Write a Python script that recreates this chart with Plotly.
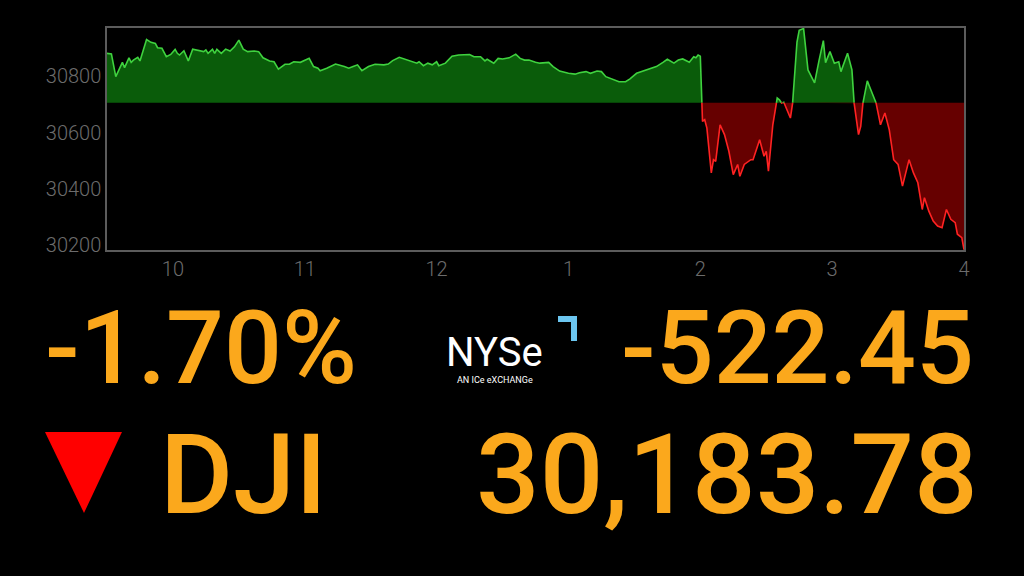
import pandas as pd
import plotly.graph_objects as go

# ---------------- data ----------------
session_date = "2022-09-21"
prev_close = 30706.23

minutes_after_open = [
    0, 2, 4, 5, 7, 8, 10, 11, 12, 14, 15, 18, 20, 22, 23, 25, 27, 29, 31, 32,
    33, 35, 37, 39, 41, 44, 45, 46, 48, 49, 50, 52, 54, 56, 58, 60, 62, 64, 67, 69,
    71, 74, 76, 78, 81, 83, 85, 88, 92, 94, 96, 97, 100, 104, 108, 110, 112, 114, 116, 119,
    122, 126, 128, 130, 133, 136, 138, 141, 142, 144, 146, 148, 150, 151, 154, 155, 157, 160, 163, 165,
    167, 170, 172, 173, 176, 178, 180, 183, 186, 188, 190, 192, 195, 197, 201, 203, 206, 210, 213, 215,
    218, 220, 223, 225, 227, 230, 233, 236, 238, 241, 244, 247, 250, 253, 255, 258, 260, 262, 265, 267,
    268, 269, 270, 271, 272, 273, 275, 276, 277, 279, 281, 283, 285, 287, 288, 290, 293, 294, 297, 299,
    300, 301, 303, 305, 306, 307, 308, 309, 311, 312, 314, 315, 317, 319, 322, 324, 326, 327, 329, 331,
    333, 334, 337, 339, 340, 342, 343, 344, 346, 347, 349, 350, 352, 354, 356, 358, 360, 362, 365, 367,
    369, 371, 372, 374, 376, 378, 380, 382, 384, 386, 387, 389, 390,
]
dji_values = [
    30882, 30880, 30799, 30817, 30850, 30831, 30866, 30850, 30858, 30868, 30855, 30931, 30921, 30917, 30902, 30900, 30870, 30878, 30896, 30882,
    30876, 30891, 30855, 30897, 30894, 30888, 30894, 30882, 30896, 30882, 30896, 30882, 30897, 30890, 30905, 30929, 30897, 30888, 30890, 30888,
    30866, 30855, 30852, 30826, 30843, 30843, 30852, 30850, 30864, 30835, 30829, 30820, 30829, 30844, 30835, 30829, 30835, 30841, 30820, 30835,
    30843, 30841, 30844, 30856, 30868, 30861, 30856, 30847, 30852, 30838, 30847, 30841, 30852, 30838, 30847, 30855, 30872, 30876, 30876, 30878,
    30870, 30870, 30855, 30861, 30847, 30864, 30862, 30866, 30879, 30864, 30858, 30858, 30850, 30847, 30850, 30835, 30819, 30811, 30808, 30813,
    30817, 30811, 30819, 30817, 30799, 30790, 30781, 30781, 30791, 30811, 30819, 30826, 30835, 30850, 30861, 30847, 30858, 30862, 30850, 30870,
    30866, 30876, 30872, 30640, 30646, 30616, 30457, 30504, 30498, 30628, 30593, 30534, 30451, 30487, 30445, 30487, 30504, 30504, 30575, 30516,
    30534, 30463, 30628, 30723, 30717, 30705, 30708, 30687, 30652, 30705, 30922, 30964, 30970, 30823, 30777, 30855, 30927, 30849, 30888, 30847,
    30852, 30817, 30882, 30823, 30705, 30593, 30622, 30705, 30784, 30764, 30728, 30705, 30628, 30670, 30610, 30504, 30487, 30410, 30504, 30457,
    30422, 30327, 30369, 30321, 30286, 30268, 30262, 30327, 30292, 30280, 30239, 30227, 30184,
]

y_tick_values = [30200, 30400, 30600, 30800]
x_tick_hours = [10, 11, 12, 13, 14, 15, 16]
x_tick_labels = ["10", "11", "12", "1", "2", "3", "4"]

pct_change_text = "-1.70%"
point_change_text = "-522.45"
index_name = "DJI"
close_text = "30,183.78"

# ---------------- build series split at previous close ----------------
open_ts = pd.Timestamp(f"{session_date} 09:30")

t_all, v_all = [], []
for i in range(len(minutes_after_open)):
    m, v = minutes_after_open[i], dji_values[i]
    if i > 0:
        m0, v0 = minutes_after_open[i - 1], dji_values[i - 1]
        if (v0 - prev_close) * (v - prev_close) < 0:
            mc = m0 + (prev_close - v0) / (v - v0) * (m - m0)
            t_all.append(mc)
            v_all.append(prev_close)
    t_all.append(m)
    v_all.append(v)

times = [open_ts + pd.Timedelta(minutes=float(m)) for m in t_all]
base = [prev_close] * len(times)
up_fill = [max(v, prev_close) for v in v_all]
dn_fill = [min(v, prev_close) for v in v_all]
up_line = [v if v >= prev_close else None for v in v_all]
dn_line = [v if v <= prev_close else None for v in v_all]

GREEN_FILL = "#0a5c0a"
GREEN_LINE = "#3fd23f"
RED_FILL = "#660000"
RED_LINE = "#ff2222"
ORANGE = "#fba81c"

fig = go.Figure()
common = dict(mode="lines", hoverinfo="skip", showlegend=False)
fig.add_trace(go.Scatter(x=times, y=base, line=dict(width=0), **common))
fig.add_trace(go.Scatter(x=times, y=up_fill, fill="tonexty", fillcolor=GREEN_FILL, line=dict(width=0), **common))
fig.add_trace(go.Scatter(x=times, y=base, line=dict(width=0), **common))
fig.add_trace(go.Scatter(x=times, y=dn_fill, fill="tonexty", fillcolor=RED_FILL, line=dict(width=0), **common))
fig.add_trace(go.Scatter(x=times, y=up_line, line=dict(color=GREEN_LINE, width=1.6), connectgaps=False, **common))
fig.add_trace(go.Scatter(x=times, y=dn_line, line=dict(color=RED_LINE, width=1.6), connectgaps=False, **common))

# ---------------- layout ----------------
W, H = 1024, 576
ML, MR, MT, MB = 107, 60, 28, 326
PW, PH = W - ML - MR, H - MT - MB


def fx(px):
    return (px - ML) / PW


def fy(py):
    return (H - MB - py) / PH


tick_font = dict(family="Roboto, sans-serif", size=20, color="#6c6c6c", weight=300)

fig.update_layout(
    width=W, height=H,
    margin=dict(l=ML, r=MR, t=MT, b=MB),
    paper_bgcolor="black", plot_bgcolor="black",
    xaxis=dict(
        type="date",
        range=[open_ts, open_ts + pd.Timedelta(hours=6.5)],
        tickvals=[pd.Timestamp(f"{session_date} {h:02d}:00") for h in x_tick_hours],
        ticktext=x_tick_labels,
        showgrid=False, zeroline=False,
        showline=True, mirror=True, linecolor="#5c5c5c", linewidth=1.5,
        ticks="", tickfont=tick_font,
    ),
    yaxis=dict(
        range=[30183, 30972],
        tickvals=y_tick_values,
        ticktext=[str(v) for v in y_tick_values],
        showgrid=False, zeroline=False,
        showline=True, mirror=True, linecolor="#5c5c5c", linewidth=1.5,
        ticks="", tickfont=tick_font,
    ),
)

big = "Roboto, Open Sans, sans-serif"
ann = [
    dict(text=pct_change_text, x=fx(43), y=fy(348), xanchor="left", yanchor="middle",
         font=dict(family=big, size=102, color=ORANGE, weight=500)),
    dict(text=point_change_text, x=fx(976), y=fy(348), xanchor="right", yanchor="middle",
         font=dict(family=big, size=102, color=ORANGE, weight=500)),
    dict(text=index_name, x=fx(158), y=fy(474), xanchor="left", yanchor="middle",
         font=dict(family=big, size=112, color=ORANGE, weight=500)),
    dict(text=close_text, x=fx(980), y=fy(474), xanchor="right", yanchor="middle",
         font=dict(family=big, size=112, color=ORANGE, weight=500)),
    dict(text="NYSe", x=fx(494), y=fy(352), xanchor="center", yanchor="middle",
         font=dict(family="Roboto, sans-serif", size=40, color="white", weight=400)),
    dict(text="AN ICe eXCHANGe", x=fx(495), y=fy(380), xanchor="center", yanchor="middle",
         font=dict(family="Roboto, sans-serif", size=9, color="white")),
]
for a in ann:
    a.update(xref="paper", yref="paper", showarrow=False)
fig.update_layout(annotations=ann)


def ppath(points):
    return "M " + " L ".join(f"{fx(x):.5f},{fy(y):.5f}" for x, y in points) + " Z"


fig.update_layout(shapes=[
    dict(type="path", xref="paper", yref="paper", path=ppath([(45, 432), (122, 432), (84, 513)]),
         fillcolor="#ff0000", line=dict(width=0)),
    dict(type="path", xref="paper", yref="paper",
         path=ppath([(558, 316), (577, 316), (577, 341), (571, 341), (571, 322), (558, 322)]),
         fillcolor="#6cc6f0", line=dict(width=0)),
])

fig.write_html(
    "out.html",
    config={"displayModeBar": False},
    post_script="document.body.style.margin='0';document.body.style.background='black';",
)
